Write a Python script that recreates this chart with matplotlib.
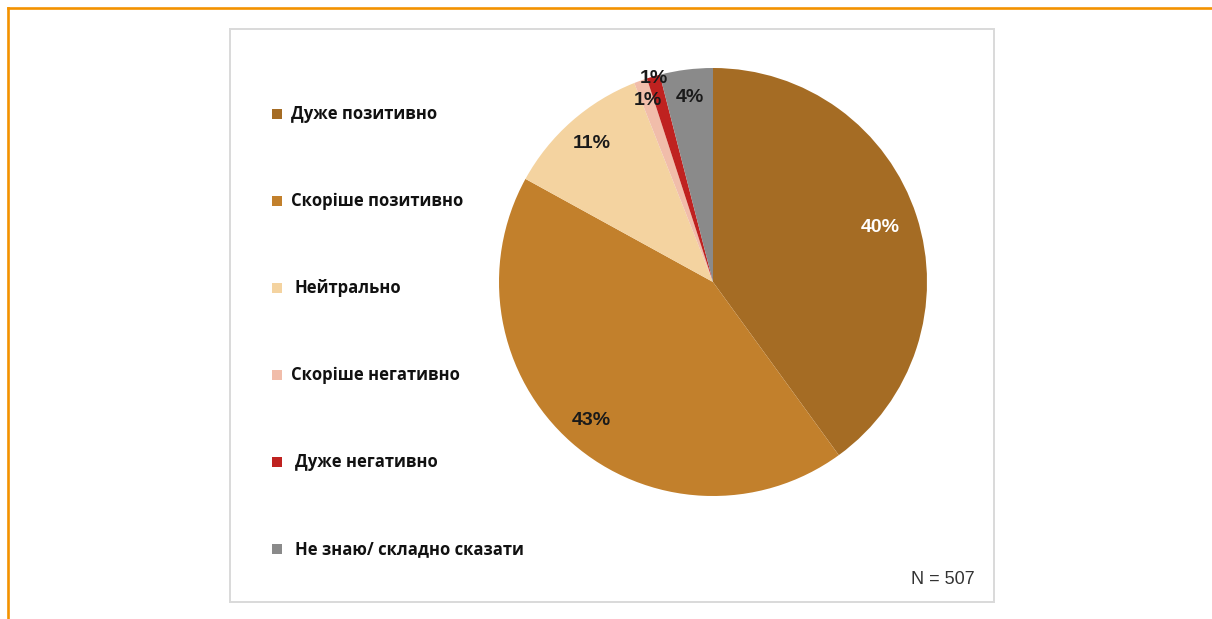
import matplotlib.pyplot as plt
from matplotlib.patches import Rectangle
from matplotlib.lines import Line2D
import numpy as np

categories = ["Дуже позитивно", "Скоріше позитивно", "Нейтрально",
              "Скоріше негативно", "Дуже негативно", "Не знаю/ складно сказати"]
shares = [40, 43, 11, 1, 1, 4]
pct_labels = ["40%", "43%", "11%", "1%", "1%", "4%"]
colors = ["#A56C24", "#C2802C", "#F4D3A0", "#F1BDAA", "#BF2220", "#8A8A8A"]
label_colors = ["white", "#1A1A1A", "#1A1A1A", "#1A1A1A", "#1A1A1A", "#1A1A1A"]
label_dist = [0.82, 0.86, 0.86, 0.90, 0.99, 0.87]
sample_note = "N = 507"

W, H = 1212, 619
fig = plt.figure(figsize=(W / 100, H / 100), dpi=100)

def fx(px):
    return px / W

def fy(py):
    return 1 - py / H

# orange frame (top and left edges only)
fig.add_artist(Line2D([fx(8), fx(8)], [fy(8), 0], color="#F39200", lw=1.9))
fig.add_artist(Line2D([fx(8), 1], [fy(8), fy(8)], color="#F39200", lw=1.9))

# grey chart box
fig.add_artist(Rectangle((fx(230), fy(602)), fx(994 - 230), (602 - 29) / H,
                         transform=fig.transFigure, fill=False,
                         edgecolor="#D9D9D9", lw=1.4))

# pie
cx, cy, r = 713, 282, 214
ax = fig.add_axes([fx(cx - r), fy(cy + r), fx(2 * r), 2 * r / H])
wedges, _ = ax.pie(shares, colors=colors, startangle=90, counterclock=False,
                   radius=1, wedgeprops=dict(linewidth=0))
ax.set_xlim(-1, 1)
ax.set_ylim(-1, 1)
ax.set_aspect("equal")
ax.axis("off")

for w, lab, col, d in zip(wedges, pct_labels, label_colors, label_dist):
    ang = np.deg2rad((w.theta1 + w.theta2) / 2)
    ax.text(d * np.cos(ang), d * np.sin(ang), lab, ha="center", va="center",
            color=col, fontsize=14, fontweight="bold", family="Liberation Sans")

# legend on the left
leg_y = [114, 201, 288, 375, 462, 549]
leg_x = [291, 291, 295, 291, 295, 295]
for cat, col, y, x in zip(categories, colors, leg_y, leg_x):
    fig.add_artist(Rectangle((fx(272), fy(y + 5)), fx(10), 10 / H,
                             transform=fig.transFigure, color=col, lw=0))
    fig.text(fx(x), fy(y), cat, ha="left", va="center", fontsize=12,
             fontweight="bold", family="Open Sans", color="#111111")

fig.text(fx(975), fy(579), sample_note, ha="right", va="center", fontsize=13,
         family="Liberation Sans", color="#333333")

fig.savefig("out.png", dpi=100)
